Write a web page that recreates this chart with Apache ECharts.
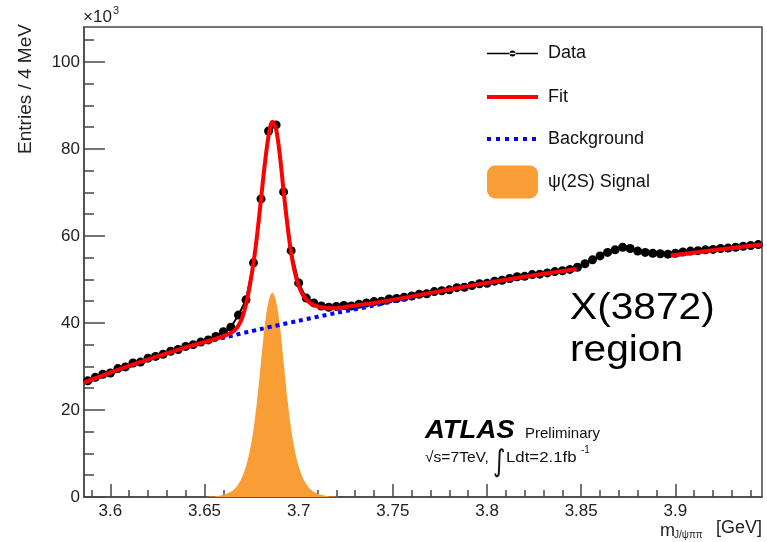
<!DOCTYPE html>
<html>
<head>
<meta charset="utf-8">
<script src="https://cdn.jsdelivr.net/npm/echarts@6.0.0/dist/echarts.min.js"></script>
<style>
html, body { margin: 0; padding: 0; background: #fff; }
#chart { width: 767px; height: 542px; }
</style>
</head>
<body>
<div id="chart"></div>
<script>
const FONT = "Liberation Sans";
const ORANGE = "#F99D35";

// data: bin centres (GeV), entries in units of 10^3 per 4 MeV
const dataMass = [
  3.588, 3.592, 3.596, 3.600, 3.604, 3.608, 3.612, 3.616, 3.620, 3.624,
  3.628, 3.632, 3.636, 3.640, 3.644, 3.648, 3.652, 3.656, 3.660, 3.664,
  3.668, 3.672, 3.676, 3.680, 3.684, 3.688, 3.692, 3.696, 3.700, 3.704,
  3.708, 3.712, 3.716, 3.720, 3.724, 3.728, 3.732, 3.736, 3.740, 3.744,
  3.748, 3.752, 3.756, 3.760, 3.764, 3.768, 3.772, 3.776, 3.780, 3.784,
  3.788, 3.792, 3.796, 3.800, 3.804, 3.808, 3.812, 3.816, 3.820, 3.824,
  3.828, 3.832, 3.836, 3.840, 3.844, 3.848, 3.852, 3.856, 3.860, 3.864,
  3.868, 3.872, 3.876, 3.880, 3.884, 3.888, 3.892, 3.896, 3.900, 3.904,
  3.908, 3.912, 3.916, 3.920, 3.924, 3.928, 3.932, 3.936, 3.940, 3.944
];
const dataCounts = [
  26.7, 27.5, 28.2, 28.5, 29.5, 29.9, 30.8, 31.0, 31.9, 32.3,
  32.8, 33.5, 33.9, 34.6, 35.0, 35.6, 36.1, 36.9, 38.0, 39.0,
  41.8, 45.3, 53.8, 68.5, 84.1, 85.5, 70.1, 56.6, 49.2, 45.7,
  44.6, 43.9, 43.6, 43.8, 44.0, 43.9, 44.3, 44.6, 44.9, 45.0,
  45.5, 45.6, 45.9, 46.2, 46.6, 46.7, 47.2, 47.4, 47.6, 48.1,
  48.2, 48.6, 49.0, 49.1, 49.6, 49.8, 50.2, 50.6, 50.7, 51.1,
  51.2, 51.5, 51.8, 52.0, 52.3, 52.8, 53.6, 54.5, 55.4, 56.2,
  56.8, 57.4, 57.1, 56.5, 56.2, 56.0, 55.9, 55.8, 56.0, 56.3,
  56.5, 56.6, 56.8, 56.9, 57.1, 57.2, 57.4, 57.6, 57.8, 58.0
];

// fit curve (null = X(3872) window left out of the fit)
const fitMass = [
  3.586, 3.595, 3.605, 3.615, 3.625, 3.635, 3.645, 3.650, 3.654, 3.658,
  3.662, 3.664, 3.666, 3.668, 3.670, 3.672, 3.674, 3.676, 3.678, 3.680,
  3.682, 3.684, 3.686, 3.688, 3.690, 3.692, 3.694, 3.696, 3.698, 3.700,
  3.702, 3.704, 3.706, 3.708, 3.712, 3.716, 3.720, 3.724, 3.730, 3.740,
  3.760, 3.780, 3.800, 3.820, 3.835, 3.8476, 3.870, 3.8976, 3.920, 3.946
];
const fitValues = [
  26.3, 27.8, 29.4, 30.9, 32.3, 33.7, 35.0, 35.6, 36.1, 36.6,
  37.3, 37.7, 38.3, 39.4, 41.2, 44.2, 48.5, 53.8, 60.5, 68.5,
  76.5, 83.0, 86.2, 84.5, 78.5, 70.2, 62.5, 56.0, 51.5, 48.5,
  46.6, 45.4, 44.6, 44.1, 43.6, 43.4, 43.4, 43.6, 44.0, 44.6,
  46.1, 47.7, 49.2, 50.6, 51.6, 52.4, null, 55.5, 56.7, 58.0
];

// background component
const bkgMass = [
  3.586, 3.600, 3.620, 3.640, 3.660, 3.680, 3.700, 3.720, 3.740, 3.760,
  3.780, 3.800, 3.820, 3.835, 3.8476, 3.870, 3.8976, 3.920, 3.946
];
const bkgValues = [
  26.3, 28.5, 31.6, 34.3, 36.6, 38.6, 40.5, 42.3, 44.0, 45.9,
  47.7, 49.2, 50.6, 51.6, 52.4, null, 55.5, 56.7, 58.0
];

// psi(2S) signal component
const sigMass = [
  3.650, 3.652, 3.654, 3.656, 3.658, 3.660, 3.662, 3.664, 3.666, 3.668,
  3.670, 3.672, 3.674, 3.676, 3.678, 3.680, 3.682, 3.684, 3.686, 3.688,
  3.690, 3.692, 3.694, 3.696, 3.698, 3.700, 3.702, 3.704, 3.706, 3.708,
  3.710, 3.712, 3.714, 3.716, 3.718, 3.720, 3.722
];
const sigValues = [
  0.0, 0.05, 0.1, 0.2, 0.3, 0.5, 0.8, 1.2, 1.9, 3.0,
  4.6, 7.0, 10.5, 15.5, 22.5, 31.0, 39.5, 45.0, 47.0, 45.0,
  39.5, 31.0, 22.5, 15.5, 10.5, 7.0, 4.6, 3.0, 1.9, 1.2,
  0.8, 0.5, 0.3, 0.2, 0.1, 0.05, 0.0
];

// axes
const xMajor = [3.6, 3.65, 3.7, 3.75, 3.8, 3.85, 3.9];
const xMinor = [3.59, 3.61, 3.62, 3.63, 3.64, 3.66, 3.67, 3.68, 3.69, 3.71, 3.72, 3.73, 3.74,
  3.76, 3.77, 3.78, 3.79, 3.81, 3.82, 3.83, 3.84, 3.86, 3.87, 3.88, 3.89, 3.91, 3.92, 3.93, 3.94];
const yMajor = [0, 20, 40, 60, 80, 100];
const yMinor = [5, 10, 15, 25, 30, 35, 45, 50, 55, 65, 70, 75, 85, 90, 95, 105];

const pairs = (xs, ys) => xs.map((x, i) => [x, ys[i]]);
const axisColor = "#474747";

const legendBase = {
  orient: "horizontal", left: 487, padding: 0, itemGap: 0,
  selectedMode: false, symbolKeepAspect: false,
};
const legendText = (w) => ({
  fontFamily: FONT, fontSize: 18, color: "#111", lineHeight: 20,
  padding: [0, 0, 0, 548 - 487 - w - 5],
});

const chart = echarts.init(document.getElementById("chart"));
chart.setOption({
  animation: false,
  backgroundColor: "#fff",
  textStyle: { fontFamily: FONT },
  grid: {
    left: 84, right: 5, top: 27, bottom: 45,
    show: true, borderColor: axisColor, borderWidth: 1.5, backgroundColor: "transparent",
  },
  legend: [
    { ...legendBase, top: 43.5, itemWidth: 51, itemHeight: 6,
      textStyle: legendText(51),
      data: [{ name: "Data", icon: "path://M0,2.3h51v1.4h-51z M22.5,3a3,3 0 1,0 6,0a3,3 0 1,0 -6,0z",
        itemStyle: { color: "#000" } }] },
    { ...legendBase, top: 87, itemWidth: 51, itemHeight: 4,
      textStyle: legendText(51),
      data: [{ name: "Fit", icon: "rect", itemStyle: { color: "#ff0000" } }] },
    { ...legendBase, top: 129, itemWidth: 49, itemHeight: 4,
      textStyle: legendText(49),
      data: [{ name: "Background",
        icon: "path://M0,0h4v4h-4zM9,0h4v4h-4zM18,0h4v4h-4zM27,0h4v4h-4zM36,0h4v4h-4zM45,0h4v4h-4z",
        itemStyle: { color: "#0000ff" } }] },
    { ...legendBase, top: 165.5, itemWidth: 51, itemHeight: 33,
      textStyle: legendText(51),
      data: [{ name: "ψ(2S) Signal", icon: "roundRect", itemStyle: { color: ORANGE } }] },
  ],
  xAxis: [
    {
      type: "value", min: 3.586, max: 3.946, position: "bottom",
      axisLine: { lineStyle: { color: axisColor, width: 1.5 } },
      axisTick: { inside: true, length: 13, customValues: xMajor, lineStyle: { color: axisColor, width: 1.5 } },
      axisLabel: { customValues: xMajor, fontSize: 17, color: "#222", margin: 6, fontFamily: FONT },
      splitLine: { show: false },
    },
    {
      type: "value", min: 3.586, max: 3.946, position: "bottom",
      axisLine: { show: false },
      axisTick: { inside: true, length: 7, customValues: xMinor, lineStyle: { color: axisColor, width: 1.5 } },
      axisLabel: { show: false },
      splitLine: { show: false },
    },
  ],
  yAxis: [
    {
      type: "value", min: 0, max: 108, position: "left",
      axisLine: { show: true, lineStyle: { color: axisColor, width: 1.5 } },
      axisTick: { show: true, inside: true, length: 21, customValues: yMajor, lineStyle: { color: axisColor, width: 1.5 } },
      axisLabel: { customValues: yMajor, fontSize: 17, color: "#222", margin: 4, fontFamily: FONT },
      splitLine: { show: false },
    },
    {
      type: "value", min: 0, max: 108, position: "left",
      axisLine: { show: false },
      axisTick: { show: true, inside: true, length: 10, customValues: yMinor, lineStyle: { color: axisColor, width: 1.5 } },
      axisLabel: { show: false },
      splitLine: { show: false },
    },
  ],
  series: [
    {
      name: "ψ(2S) Signal", type: "line", z: 2, smooth: 0.3, symbol: "none",
      color: ORANGE,
      lineStyle: { width: 0 },
      areaStyle: { color: ORANGE, opacity: 1 },
      data: pairs(sigMass, sigValues),
    },
    {
      name: "Data", type: "line", z: 3, symbol: "circle", symbolSize: 9,
      color: "#000",
      itemStyle: { color: "#000" },
      lineStyle: { color: "#000", width: 2 },
      data: pairs(dataMass, dataCounts),
    },
    {
      name: "Background", type: "line", z: 4, smooth: 0.3, symbol: "none",
      color: "#0000ff",
      lineStyle: { color: "#0000ff", width: 4, type: [4, 4] },
      connectNulls: false,
      data: pairs(bkgMass, bkgValues),
    },
    {
      name: "Fit", type: "line", z: 5, smooth: 0.3, symbol: "none",
      color: "#ff0000",
      lineStyle: { color: "#ff0000", width: 4 },
      connectNulls: false,
      data: pairs(fitMass, fitValues),
    },
  ],
  graphic: {
    elements: [
      { type: "text", x: 83, y: 17, style: { text: "×10", fontFamily: FONT, fontSize: 17, fill: "#222", verticalAlign: "middle" } },
      { type: "text", x: 113, y: 11, style: { text: "3", fontFamily: FONT, fontSize: 11, fill: "#222", verticalAlign: "middle" } },
      { type: "text", x: 26, y: 89, rotation: Math.PI / 2,
        style: { text: "Entries / 4 MeV", fontFamily: FONT, fontSize: 19, fill: "#222", align: "center", verticalAlign: "middle" } },
      { type: "text", x: 660, y: 531, style: { text: "m", fontFamily: FONT, fontSize: 18, fill: "#222", verticalAlign: "middle" } },
      { type: "text", x: 674, y: 535, style: { text: "J/ψππ", fontFamily: FONT, fontSize: 10, fill: "#222", verticalAlign: "middle" } },
      { type: "text", x: 762, y: 528, style: { text: "[GeV]", fontFamily: FONT, fontSize: 18, fill: "#222", align: "right", verticalAlign: "middle" } },
      { type: "text", x: 570, y: 309, scaleX: 1.1,
        style: { text: "X(3872)", fontFamily: FONT, fontSize: 37, fill: "#000", verticalAlign: "middle" } },
      { type: "text", x: 570, y: 351, scaleX: 1.1,
        style: { text: "region", fontFamily: FONT, fontSize: 37, fill: "#000", verticalAlign: "middle" } },
      { type: "text", x: 425, y: 431, scaleX: 1.1,
        style: { text: "ATLAS", fontFamily: FONT, fontSize: 25, fontWeight: "bold", fontStyle: "italic", fill: "#000", verticalAlign: "middle" } },
      { type: "text", x: 525, y: 434, style: { text: "Preliminary", fontFamily: FONT, fontSize: 15, fill: "#111", verticalAlign: "middle" } },
      { type: "text", x: 425, y: 458, scaleX: 1.04,
        style: { text: "√s=7TeV,", fontFamily: FONT, fontSize: 15, fill: "#111", verticalAlign: "middle" } },
      { type: "text", x: 493, y: 463, scaleX: 0.8,
        style: { text: "∫", fontFamily: "DejaVu Sans", fontSize: 30, fill: "#111", verticalAlign: "middle" } },
      { type: "text", x: 506, y: 458, scaleX: 1.12,
        style: { text: "Ldt=2.1fb", fontFamily: FONT, fontSize: 15, fill: "#111", verticalAlign: "middle" } },
      { type: "text", x: 581, y: 450, style: { text: "-1", fontFamily: FONT, fontSize: 10, fill: "#111", verticalAlign: "middle" } },
    ],
  },
});
</script>
</body>
</html>
